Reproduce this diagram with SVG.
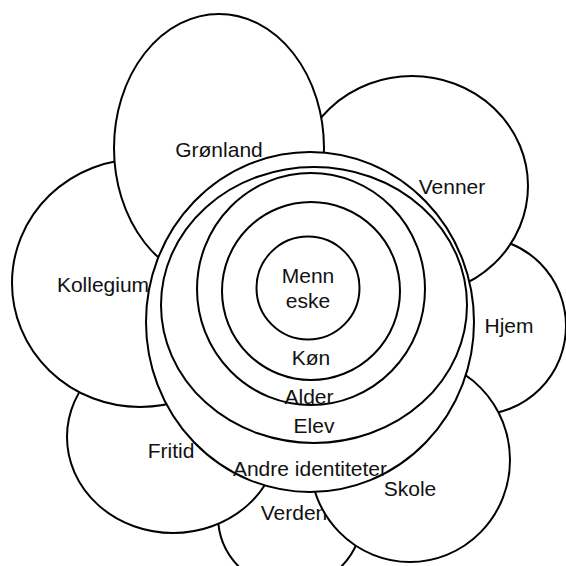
<svg xmlns="http://www.w3.org/2000/svg" width="566" height="566" viewBox="0 0 566 566">
<style>
.s{fill:#fff;stroke:#000;stroke-width:2}
.r{fill:none;stroke:#000;stroke-width:2}
text{font-family:"Liberation Sans",Arial,sans-serif;font-size:21px;fill:#111;text-anchor:middle}
</style>
<rect width="566" height="566" fill="#fff"/>
<g id="verden"><circle class="s" cx="290" cy="516" r="72"/><text x="294" y="520">Verden</text></g>
<g id="hjem"><circle class="s" cx="477" cy="326" r="89"/><text x="509" y="333">Hjem</text></g>
<g id="fritid"><ellipse class="s" cx="173" cy="437" rx="106" ry="96"/><text x="171" y="458">Fritid</text></g>
<g id="skole"><ellipse class="s" cx="410" cy="460" rx="100" ry="102"/><text x="410" y="496">Skole</text></g>
<g id="venner"><ellipse class="s" cx="412" cy="186" rx="116" ry="110"/><text x="452" y="194">Venner</text></g>
<g id="kollegium"><ellipse class="s" cx="140" cy="283" rx="128" ry="124"/><text x="103" y="292">Kollegium</text></g>
<g id="gronland"><ellipse class="s" cx="219" cy="148" rx="105" ry="134"/><text x="219" y="157">Grønland</text></g>
<g id="andre"><ellipse class="s" cx="310" cy="322" rx="164" ry="170"/></g>
<g id="elev"><ellipse class="r" cx="314" cy="305" rx="153" ry="138"/></g>
<g id="alder"><ellipse class="r" cx="311" cy="289" rx="114" ry="116"/></g>
<g id="kon"><circle class="r" cx="311" cy="291" r="89"/></g>
<g id="menneske"><circle class="r" cx="308" cy="288" r="51.5"/><text x="308" y="283">Menn</text><text x="308" y="308">eske</text></g>
<g id="labels">
<text x="311" y="365">Køn</text>
<text x="309" y="404">Alder</text>
<text x="314" y="433">Elev</text>
<text x="310" y="476">Andre identiteter</text>
</g>
<g id="connectors"/>
</svg>
